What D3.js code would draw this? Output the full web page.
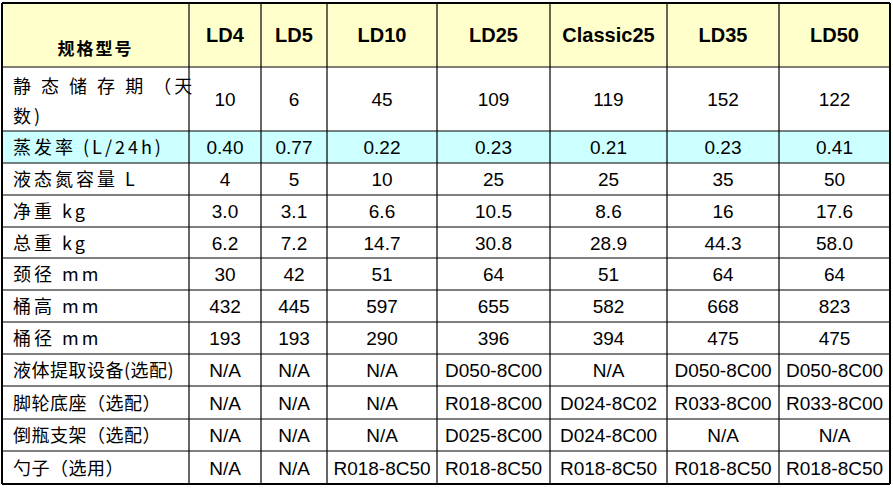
<!DOCTYPE html><html><head><meta charset="utf-8"><script src="https://d3js.org/d3.v7.min.js"></script>
<style>body{margin:0;background:#fff}</style></head><body><svg id="c" width="893" height="488"></svg>
<script>
const headerLabel="规格型号";
const models=["LD4","LD5","LD10","LD25","Classic25","LD35","LD50"];
const rowLabels=[["静 态 储 存 期 （天","数)"],["蒸发率 (L/24h)"],["液态氮容量 L"],["净重 kg"],["总重 kg"],["颈径 mm"],["桶高 mm"],["桶径 mm"],["液体提取设备(选配)"],["脚轮底座（选配）"],["倒瓶支架（选配）"],["勺子（选用）"]];
const storageDays=["10","6","45","109","119","152","122"];
const evaporation=["0.40","0.77","0.22","0.23","0.21","0.23","0.41"];
const capacity=["4","5","10","25","25","35","50"];
const netWeight=["3.0","3.1","6.6","10.5","8.6","16","17.6"];
const grossWeight=["6.2","7.2","14.7","30.8","28.9","44.3","58.0"];
const neck=["30","42","51","64","51","64","64"];
const height=["432","445","597","655","582","668","823"];
const diameter=["193","193","290","396","394","475","475"];
const extractor=["N/A","N/A","N/A","D050-8C00","N/A","D050-8C00","D050-8C00"];
const caster=["N/A","N/A","N/A","R018-8C00","D024-8C02","R033-8C00","R033-8C00"];
const tipper=["N/A","N/A","N/A","D025-8C00","D024-8C00","N/A","N/A"];
const dipper=["N/A","N/A","R018-8C50","R018-8C50","R018-8C50","R018-8C50","R018-8C50"];
const rows=[storageDays,evaporation,capacity,netWeight,grossWeight,neck,height,diameter,extractor,caster,tipper,dipper];

const colEdges=[2,189,261,327,437,550,667,779,890];
const rowEdges=[3,67,131,163,195,227,258,290,322,354,386,419,451,484];
const x=d3.scaleLinear().domain(d3.range(colEdges.length)).range(colEdges);
const y=d3.scaleLinear().domain(d3.range(rowEdges.length)).range(rowEdges);
const svg=d3.select("#c");
const cjk="'Noto Sans CJK SC',sans-serif", lat="'Liberation Sans',Arial,sans-serif";
svg.append("rect").attr("x",x(0)).attr("y",y(0)).attr("width",x(8)-x(0)).attr("height",y(1)-y(0)).attr("fill","#FFFFCC");
svg.append("rect").attr("x",x(0)).attr("y",y(2)).attr("width",x(8)-x(0)).attr("height",y(3)-y(2)).attr("fill","#CCFFFF");
svg.append("text").attr("x",(x(0)+x(1))/2).attr("y",y(1)-12).attr("text-anchor","middle").attr("font-family",cjk).attr("font-size",17).attr("font-weight","bold").attr("letter-spacing",2).attr("fill","#000").text(headerLabel);
svg.selectAll(".h").data(models).join("text").attr("x",(d,i)=>(x(i+1)+x(i+2))/2).attr("y",(y(0)+y(1))/2+7)
 .attr("text-anchor","middle").attr("font-family",lat).attr("font-weight","bold").attr("font-size",20).text(d=>d);
rows.forEach((vals,r)=>{
  const y0=y(r+1),y1=y(r+2),cy=(y0+y1)/2;
  const lab=rowLabels[r];
  lab.forEach((t,k)=>{
    svg.append("text").attr("x",x(0)+11).attr("y",lab.length>1?y0+26+k*30:cy+7).attr("font-family",cjk).attr("font-size",18)
      .attr("letter-spacing",r>=8?0.5:3).attr("fill","#000").text(t);
  });
  svg.selectAll(null).data(vals).join("text").attr("x",(d,i)=>(x(i+1)+x(i+2))/2).attr("y",cy+7)
   .attr("text-anchor","middle").attr("font-family",lat).attr("font-size",19).text(d=>d);
});
svg.selectAll(".v").data(colEdges).join("line").attr("x1",d=>d).attr("x2",d=>d).attr("y1",rowEdges[0]).attr("y2",rowEdges[rowEdges.length-1]).attr("stroke","#000").attr("stroke-width",(d,i)=>i==0||i==colEdges.length-1?2:1.2);
svg.selectAll(".hz").data(rowEdges).join("line").attr("y1",d=>d).attr("y2",d=>d).attr("x1",colEdges[0]).attr("x2",colEdges[colEdges.length-1]).attr("stroke","#000").attr("stroke-width",(d,i)=>i==0||i==rowEdges.length-1?2:1.2);
</script></body></html>
